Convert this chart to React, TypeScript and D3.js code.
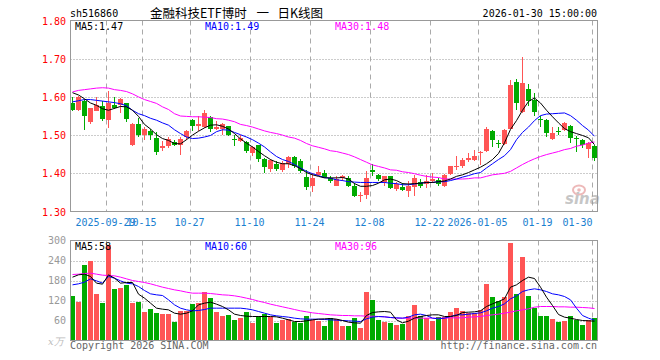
import React from 'react';
import * as d3 from 'd3';

const dates = [
  '2025-09-19','2025-09-22','2025-09-23','2025-09-24','2025-09-25','2025-09-26','2025-09-29','2025-09-30',
  '2025-10-09','2025-10-10','2025-10-13','2025-10-14','2025-10-15','2025-10-16','2025-10-17','2025-10-20',
  '2025-10-21','2025-10-22','2025-10-23','2025-10-24','2025-10-27','2025-10-28','2025-10-29','2025-10-30','2025-10-31',
  '2025-11-03','2025-11-04','2025-11-05','2025-11-06','2025-11-07','2025-11-10','2025-11-11','2025-11-12','2025-11-13',
  '2025-11-14','2025-11-17','2025-11-18','2025-11-19','2025-11-20','2025-11-21','2025-11-24','2025-11-25','2025-11-26',
  '2025-11-27','2025-11-28',
  '2025-12-01','2025-12-02','2025-12-03','2025-12-04','2025-12-05','2025-12-08','2025-12-09','2025-12-10','2025-12-11',
  '2025-12-12','2025-12-15','2025-12-16','2025-12-17','2025-12-18','2025-12-19','2025-12-22','2025-12-23','2025-12-24',
  '2025-12-25','2025-12-26','2025-12-29','2025-12-30','2025-12-31',
  '2026-01-05','2026-01-06','2026-01-07','2026-01-08','2026-01-09','2026-01-12','2026-01-13','2026-01-14','2026-01-15',
  '2026-01-16','2026-01-19','2026-01-20','2026-01-21','2026-01-22','2026-01-23','2026-01-26','2026-01-27','2026-01-28',
  '2026-01-29','2026-01-30'
];

const opens = [
  1.583,1.565,1.589,1.534,1.564,1.575,1.539,1.580,1.578,1.583,
  1.474,1.528,1.500,1.512,1.492,1.465,1.471,1.482,1.475,1.495,
  1.539,1.523,1.522,1.548,1.515,1.516,1.523,1.490,1.484,1.481,
  1.452,1.473,1.438,1.410,1.425,1.408,1.425,1.443,1.431,1.390,
  1.366,1.396,1.401,1.389,1.368,1.388,1.389,1.368,1.341,1.343,
  1.408,1.396,1.376,1.392,1.360,1.364,1.353,1.364,1.376,1.373,
  1.379,1.383,1.366,1.399,1.416,1.420,1.434,1.436,1.452,1.458,
  1.512,1.480,1.478,1.516,1.639,1.560,1.621,1.593,1.543,1.539,
  1.490,1.510,1.514,1.523,1.492,1.488,1.464,1.472
];
const closes = [
  1.567,1.600,1.551,1.570,1.578,1.541,1.585,1.571,1.595,1.541,
  1.528,1.501,1.517,1.499,1.455,1.471,1.491,1.475,1.491,1.512,
  1.523,1.530,1.557,1.516,1.521,1.530,1.501,1.487,1.493,1.459,
  1.469,1.438,1.416,1.436,1.410,1.427,1.442,1.418,1.405,1.364,
  1.389,1.403,1.390,1.379,1.385,1.394,1.368,1.340,1.344,1.389,
  1.403,1.385,1.392,1.361,1.373,1.357,1.368,1.389,1.366,1.379,
  1.385,1.373,1.396,1.418,1.420,1.434,1.440,1.446,1.456,1.516,
  1.488,1.476,1.514,1.630,1.585,1.636,1.589,1.560,1.539,1.506,
  1.506,1.507,1.532,1.493,1.489,1.475,1.479,1.440
];
const highs = [
  1.600,1.602,1.595,1.571,1.600,1.589,1.615,1.600,1.598,1.585,
  1.532,1.545,1.521,1.516,1.509,1.484,1.495,1.487,1.495,1.513,
  1.543,1.551,1.565,1.550,1.538,1.532,1.525,1.501,1.499,1.484,
  1.471,1.473,1.440,1.438,1.431,1.431,1.444,1.444,1.438,1.408,
  1.401,1.418,1.408,1.394,1.394,1.396,1.392,1.375,1.352,1.405,
  1.425,1.399,1.394,1.394,1.376,1.375,1.379,1.396,1.385,1.396,
  1.401,1.388,1.398,1.420,1.445,1.440,1.453,1.462,1.458,1.522,
  1.514,1.487,1.516,1.644,1.648,1.704,1.634,1.611,1.549,1.543,
  1.521,1.521,1.534,1.527,1.497,1.490,1.481,1.475
];
const lows = [
  1.563,1.563,1.513,1.528,1.562,1.536,1.519,1.569,1.558,1.534,
  1.472,1.495,1.488,1.487,1.449,1.458,1.466,1.471,1.449,1.488,
  1.510,1.510,1.519,1.508,1.513,1.501,1.497,1.471,1.481,1.453,
  1.446,1.430,1.401,1.403,1.405,1.403,1.414,1.414,1.401,1.357,
  1.350,1.392,1.388,1.374,1.366,1.379,1.364,1.338,1.324,1.333,
  1.392,1.381,1.366,1.359,1.353,1.353,1.338,1.341,1.361,1.361,
  1.374,1.366,1.363,1.396,1.408,1.414,1.429,1.431,1.423,1.455,
  1.469,1.466,1.475,1.515,1.567,1.558,1.576,1.551,1.522,1.495,
  1.488,1.501,1.511,1.479,1.455,1.466,1.440,1.433
];
const volumes = [
  134,116,227,240,140,113,287,155,159,167,
  114,116,86,95,83,80,80,56,90,90,
  110,113,146,128,86,75,77,62,68,86,
  54,75,79,72,53,62,65,56,54,75,
  62,60,44,67,64,44,44,68,38,146,
  122,62,56,53,47,50,74,107,74,68,
  59,71,71,86,98,89,83,83,92,170,
  131,119,131,293,140,251,134,99,75,75,
  65,57,59,75,61,47,61,67
];

const ma5 = [
  1.611,1.605,1.595,1.584,1.578,1.569,1.565,1.570,1.575,1.574,
  1.565,1.549,1.528,1.516,1.501,1.491,1.486,1.478,1.477,1.488,
  1.500,1.510,1.519,1.526,1.527,1.523,1.516,1.504,1.490,1.479,
  1.469,1.457,1.446,1.436,1.429,1.425,1.425,1.420,1.412,1.402,
  1.396,1.392,1.388,1.388,1.388,1.389,1.385,1.373,1.366,1.366,
  1.368,1.374,1.383,1.385,1.381,1.373,1.372,1.373,1.374,1.376,
  1.376,1.378,1.380,1.385,1.392,1.396,1.402,1.409,1.416,1.425,
  1.436,1.452,1.480,1.515,1.538,1.565,1.588,1.597,1.584,1.565,
  1.548,1.532,1.517,1.509,1.504,1.499,1.493,1.475
];
const ma10 = [
  1.587,1.590,1.593,1.593,1.591,1.589,1.587,1.585,1.582,1.577,
  1.565,1.556,1.551,1.544,1.539,1.532,1.526,1.514,1.504,1.495,
  1.491,1.492,1.495,1.499,1.509,1.514,1.513,1.507,1.501,1.495,
  1.488,1.479,1.469,1.456,1.444,1.436,1.431,1.423,1.414,1.405,
  1.399,1.394,1.389,1.387,1.383,1.381,1.378,1.377,1.376,1.376,
  1.376,1.376,1.376,1.374,1.373,1.370,1.370,1.372,1.374,1.376,
  1.376,1.378,1.378,1.381,1.385,1.390,1.394,1.399,1.402,1.414,
  1.425,1.436,1.446,1.462,1.488,1.507,1.521,1.538,1.551,1.555,
  1.556,1.557,1.558,1.551,1.539,1.525,1.513,1.497
];
const ma30 = [
  1.613,1.617,1.619,1.621,1.623,1.624,1.623,1.619,1.617,1.614,
  1.608,1.600,1.593,1.588,1.583,1.574,1.567,1.556,1.550,1.549,
  1.548,1.548,1.547,1.546,1.543,1.542,1.539,1.535,1.528,1.525,
  1.521,1.516,1.511,1.507,1.504,1.500,1.495,1.492,1.486,1.478,
  1.472,1.468,1.464,1.459,1.457,1.453,1.449,1.443,1.436,1.429,
  1.422,1.418,1.414,1.409,1.408,1.404,1.402,1.399,1.395,1.392,
  1.390,1.389,1.385,1.385,1.385,1.385,1.386,1.388,1.388,1.392,
  1.396,1.398,1.400,1.405,1.414,1.423,1.431,1.438,1.444,1.449,
  1.453,1.457,1.462,1.465,1.471,1.474,1.479,1.482
];

const vma5 = [
  190,197,199,192,172,169,197,187,172,174,
  174,139,127,112,97,94,92,82,79,82,
  89,107,112,115,109,102,92,79,75,73,
  72,72,72,72,71,67,62,57,57,59,
  62,64,65,66,64,60,55,53,52,75,
  84,86,87,85,62,53,58,67,72,75,
  77,77,72,72,75,84,85,86,89,102,
  110,117,125,160,167,180,190,186,160,130,
  105,78,70,67,63,60,59,58
];
const vma10 = [
  167,170,175,185,179,172,192,187,179,172,
  170,162,150,140,137,135,122,107,97,92,
  89,90,93,97,97,97,97,97,97,95,
  92,87,82,77,74,72,70,67,65,64,
  64,64,63,62,61,60,59,58,57,65,
  70,72,71,69,68,67,70,77,79,75,
  67,65,67,72,77,77,79,81,83,89,
  97,102,110,125,134,147,152,155,152,147,
  140,137,132,122,97,75,67,61
];
const vma30 = [
  198,199,201,202,199,196,195,194,190,185,
  180,177,174,170,165,160,156,152,149,145,
  142,142,142,141,139,137,136,134,131,127,
  123,118,114,109,105,101,97,93,89,86,
  83,81,79,77,76,75,75,74,74,73,
  73,72,71,69,67,67,67,67,67,67,
  67,67,67,68,68,68,70,71,72,75,
  77,79,82,85,89,92,95,100,102,102,
  102,101,101,100,100,99,98,96
];

const tickDates = ['2025-09-29','2025-10-15','2025-10-27','2025-11-10','2025-11-24','2025-12-08','2025-12-22','2026-01-05','2026-01-19','2026-01-30'];
const tickLabels = ['2025-09-29','10-15','10-27','11-10','11-24','12-08','12-22','2026-01-05','01-19','01-30'];
const priceTicks = [1.3, 1.4, 1.5, 1.6, 1.7, 1.8];
const volTicks = [60, 120, 180, 240, 300];

const UP = '#ff5555';
const DOWN = '#00aa00';
const MONO = '"DejaVu Sans Mono", "Liberation Mono", monospace';
const CJK = '"Noto Sans CJK SC", "Noto Sans", sans-serif';

export default function App() {
  const n = dates.length;
  const x = d3.scaleLinear().domain([0, n]).range([70, 70 + 6 * n]);
  const yP = d3.scaleLinear().domain([1.3, 1.8]).range([211.5, 20.5]);
  const yV = d3.scaleLinear().domain([0, 300]).range([340.5, 240.5]);
  const L = 70.5, R = 597.5;
  const bw = 5;

  const priceLine = d3.line<number>().x((_, i) => x(i) + 2.5).y((d) => yP(d));
  const volLine = d3.line<number>().x((_, i) => x(i) + 2.5).y((d) => yV(d));

  const tickIdx = tickDates.map((d) => dates.indexOf(d));

  return (
    <svg width={660} height={360} style={{ position: 'absolute', left: 0, top: 0, background: '#fff' }}>
      <rect x={0} y={0} width={660} height={360} fill="#fff" />
      {/* header */}
      <text x={70} y={17} fontFamily={MONO} fontSize={10} fill="#000">sh516860</text>
      <text x={150} y={18} fontFamily={CJK} fontSize={12.5} fill="#000">金融科技ETF博时</text>
      <text x={256.5} y={18} fontFamily={CJK} fontSize={12.5} fill="#000">一</text>
      <text x={277.5} y={18} fontFamily={CJK} fontSize={12.5} fill="#000">日K线图</text>
      <text x={597} y={17} textAnchor="end" fontFamily={MONO} fontSize={10} fill="#000">2026-01-30 15:00:00</text>

      {/* price grid */}
      {priceTicks.map((t) => (
        <g key={'pt' + t}>
          {t > 1.3 && t < 1.8 && (
            <line x1={L} x2={R} y1={Math.round(yP(t)) + 0.5} y2={Math.round(yP(t)) + 0.5} stroke="#999" strokeDasharray="1,2" />
          )}
          <text x={66} y={yP(t) + 4} textAnchor="end" fontFamily={MONO} fontSize={10} fill="#ff0000">{t.toFixed(2)}</text>
        </g>
      ))}
      {/* volume grid */}
      {volTicks.map((t) => (
        <g key={'vt' + t}>
          {t < 300 && (
            <line x1={L} x2={R} y1={Math.round(yV(t)) + 0.5} y2={Math.round(yV(t)) + 0.5} stroke="#999" strokeDasharray="1,2" />
          )}
          <text x={66} y={yV(t) + 3.5} textAnchor="end" fontFamily={MONO} fontSize={10} fill="#999">{t}</text>
        </g>
      ))}
      {/* vertical grid */}
      {tickIdx.map((i, k) => {
        const gx = x(i) + 0.5;
        const last = k === tickIdx.length - 1;
        return (
          <g key={'xt' + k}>
            <line x1={gx} x2={gx} y1={20.5} y2={211.5} stroke="#aaa" strokeDasharray="5,4" />
            <line x1={gx} x2={gx} y1={240.5} y2={340.5} stroke="#aaa" strokeDasharray="5,4" />
            <text x={last ? gx : gx - 1} y={226} textAnchor={last ? 'end' : 'middle'} fontFamily={MONO} fontSize={10} fill="#1a80d0">{tickLabels[k]}</text>
          </g>
        );
      })}

      {/* sina logo */}
      <g opacity={0.55}>
        <ellipse cx={579} cy={190} rx={6} ry={4.5} fill="none" stroke="#e08080" strokeWidth={2} />
        <circle cx={579} cy={190} r={1.8} fill="#e08080" />
        <text x={565} y={204} fontFamily={'"DejaVu Sans", sans-serif'} fontStyle="italic" fontWeight="bold" fontSize={15} fill="#999">sina</text>
      </g>

      {/* candles */}
      <g shapeRendering="crispEdges">
        {dates.map((_, i) => {
          const o = opens[i], c = closes[i];
          const up = c >= o;
          const col = up ? UP : DOWN;
          const top = Math.round(yP(Math.max(o, c)));
          const bot = Math.round(yP(Math.min(o, c)));
          const hi = Math.round(yP(highs[i]));
          const lo = Math.round(yP(lows[i]));
          return (
            <g key={'c' + i}>
              <rect x={x(i) + 2} y={hi} width={1} height={Math.max(1, lo - hi)} fill={col} />
              <rect x={x(i)} y={top} width={bw} height={Math.max(1, bot - top)} fill={col} />
            </g>
          );
        })}
      </g>
      {/* volume bars */}
      <g shapeRendering="crispEdges">
        {volumes.map((v, i) => {
          const up = closes[i] >= opens[i];
          const t = Math.round(yV(v));
          return <rect key={'v' + i} x={x(i)} y={t} width={bw} height={Math.round(yV(0)) - t} fill={up ? UP : DOWN} />;
        })}
      </g>

      {/* MA lines */}
      <path d={priceLine(ma30) || ''} fill="none" stroke="#ff00ff" strokeWidth={1} />
      <path d={priceLine(ma10) || ''} fill="none" stroke="#0000ff" strokeWidth={1} />
      <path d={priceLine(ma5) || ''} fill="none" stroke="#000" strokeWidth={1} />
      <path d={volLine(vma30) || ''} fill="none" stroke="#ff00ff" strokeWidth={1} />
      <path d={volLine(vma10) || ''} fill="none" stroke="#0000ff" strokeWidth={1} />
      <path d={volLine(vma5) || ''} fill="none" stroke="#000" strokeWidth={1} />

      {/* borders */}
      <rect x={L} y={20.5} width={R - L} height={191} fill="none" stroke="#999" />
      <rect x={L} y={240.5} width={R - L} height={100} fill="none" stroke="#999" />

      {/* MA labels */}
      <text x={75} y={30} fontFamily={MONO} fontSize={10} fill="#000">MA5:1.47</text>
      <text x={205} y={30} fontFamily={MONO} fontSize={10} fill="#0000ff">MA10:1.49</text>
      <text x={335} y={30} fontFamily={MONO} fontSize={10} fill="#ff00ff">MA30:1.48</text>
      <text x={75} y={250} fontFamily={MONO} fontSize={10} fill="#000">MA5:58</text>
      <text x={205} y={250} fontFamily={MONO} fontSize={10} fill="#0000ff">MA10:60</text>
      <text x={335} y={250} fontFamily={MONO} fontSize={10} fill="#ff00ff">MA30:96</text>

      {/* footer */}
      <text x={48} y={345} fontFamily={'"DejaVu Serif", serif'} fontStyle="italic" fontSize={10} fill="#bbb">x万</text>
      <text x={70} y={349} fontFamily={MONO} fontSize={10} fill="#666">Copyright 2026 SINA.COM</text>
      <text x={597} y={349} textAnchor="end" fontFamily={MONO} fontSize={10} fill="#666">http://finance.sina.com.cn</text>
    </svg>
  );
}
